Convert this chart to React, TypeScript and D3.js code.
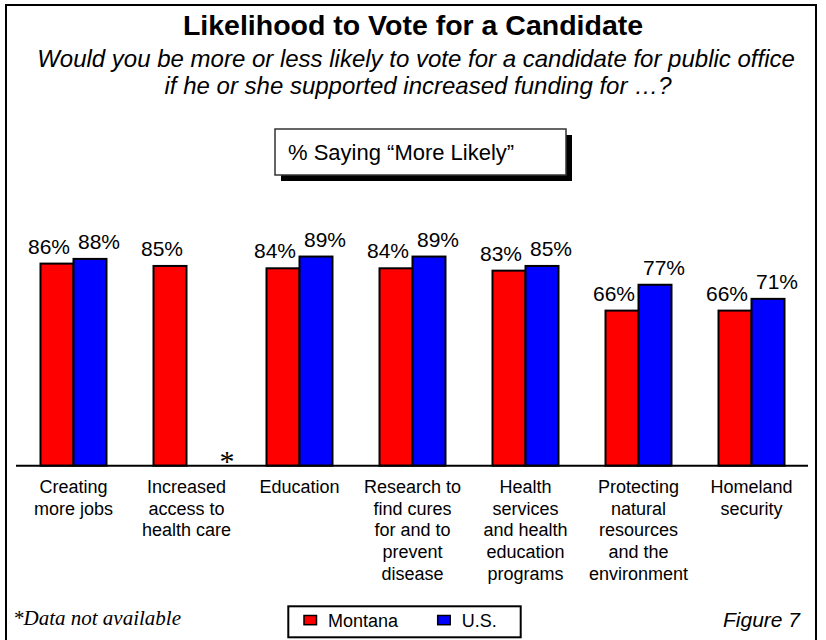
import React from "react";
import * as d3 from "d3";

const categories: string[][] = [
  ["Creating", "more jobs"],
  ["Increased", "access to", "health care"],
  ["Education"],
  ["Research to", "find cures", "for and to", "prevent", "disease"],
  ["Health", "services", "and health", "education", "programs"],
  ["Protecting", "natural", "resources", "and the", "environment"],
  ["Homeland", "security"],
];
const montana: (number | null)[] = [86, 85, 84, 84, 83, 66, 66];
const us: (number | null)[] = [88, null, 89, 89, 85, 77, 71];
const seriesNames = ["Montana", "U.S."];
const seriesColors = ["#FF0000", "#0000FF"];

const W = 826;
const H = 640;
const FONT = "Arial, 'Liberation Sans', Helvetica, sans-serif";

export default function App() {
  const ids = categories.map((_, i) => String(i));
  const x = d3.scaleBand<string>().domain(ids).range([17, 808]).paddingInner(0.416).paddingOuter(0.208);
  const sub = d3.scaleBand<string>().domain(seriesNames).range([0, x.bandwidth()]);
  const y = d3.scaleLinear().domain([0, 100]).range([465.7, 230.7]);
  const base = y(0);
  const series = [montana, us];
  const labelShift = [-8, 9];

  return (
    <svg width={W} height={H} style={{ position: "absolute", left: 0, top: 0, background: "#fff" }} fontFamily={FONT}>
      <rect x={0} y={0} width={W} height={H} fill="#fff" />
      <rect x={6} y={5} width={810} height={650} fill="none" stroke="#000" strokeWidth={2} />
      <text x={413} y={35} textAnchor="middle" fontSize={28.5} fontWeight="bold">Likelihood to Vote for a Candidate</text>
      <text x={416} y={67} textAnchor="middle" fontSize={24} fontStyle="italic">Would you be more or less likely to vote for a candidate for public office</text>
      <text x={418} y={94} textAnchor="middle" fontSize={24} fontStyle="italic">if he or she supported increased funding for …?</text>

      <rect x={281} y={135} width={291} height={46} fill="#000" />
      <rect x={275} y={129} width={291} height={46} fill="#fff" stroke="#333" strokeWidth={1.5} />
      <text x={288} y={160} fontSize={22}>% Saying “More Likely”</text>

      {series.map((vals, si) =>
        vals.map((v, i) =>
          v == null ? null : (
            <rect
              key={`b${si}-${i}`}
              x={(x(ids[i]) as number) + (sub(seriesNames[si]) as number)}
              y={y(v)}
              width={sub.bandwidth()}
              height={base - y(v)}
              fill={seriesColors[si]}
              stroke="#000"
              strokeWidth={2}
            />
          )
        )
      )}
      {series.map((vals, si) =>
        vals.map((v, i) =>
          v == null ? null : (
            <text
              key={`l${si}-${i}`}
              x={(x(ids[i]) as number) + (sub(seriesNames[si]) as number) + sub.bandwidth() / 2 + labelShift[si]}
              y={y(v) - 10}
              textAnchor="middle"
              fontSize={21}
            >
              {v}%
            </text>
          )
        )
      )}
      {series.map((vals, si) =>
        vals.map((v, i) =>
          v == null ? (
            <text
              key={`n${si}-${i}`}
              x={(x(ids[i]) as number) + (sub(seriesNames[si]) as number) + sub.bandwidth() / 2 + 24}
              y={base + 5}
              textAnchor="middle"
              fontSize={30}
              fontFamily="'Liberation Serif', 'Times New Roman', serif"
            >
              *
            </text>
          ) : null
        )
      )}
      <line x1={16} x2={808} y1={base} y2={base} stroke="#000" strokeWidth={2} />

      {categories.map((lines, i) => (
        <text key={`c${i}`} textAnchor="middle" fontSize={18}>
          {lines.map((ln, j) => (
            <tspan key={j} x={(x(ids[i]) as number) + x.bandwidth() / 2} y={493 + j * 21.7}>
              {ln}
            </tspan>
          ))}
        </text>
      ))}

      <text x={13} y={625} fontSize={21} fontStyle="italic" fontFamily="'Liberation Serif', 'Times New Roman', serif">*Data not available</text>
      <text x={800} y={626.7} textAnchor="end" fontSize={21} fontStyle="italic">Figure 7</text>

      <rect x={288.3} y={606.3} width={232.4} height={31} fill="#fff" stroke="#000" strokeWidth={2} />
      {seriesNames.map((s, si) => {
        const lx = [304, 437.7][si];
        return (
          <g key={`lg${si}`}>
            <rect x={lx} y={615.5} width={12.5} height={9.2} fill={seriesColors[si]} stroke="#000" strokeWidth={1.5} />
            <text x={lx + 24} y={627.3} fontSize={18}>{s}</text>
          </g>
        );
      })}
    </svg>
  );
}
